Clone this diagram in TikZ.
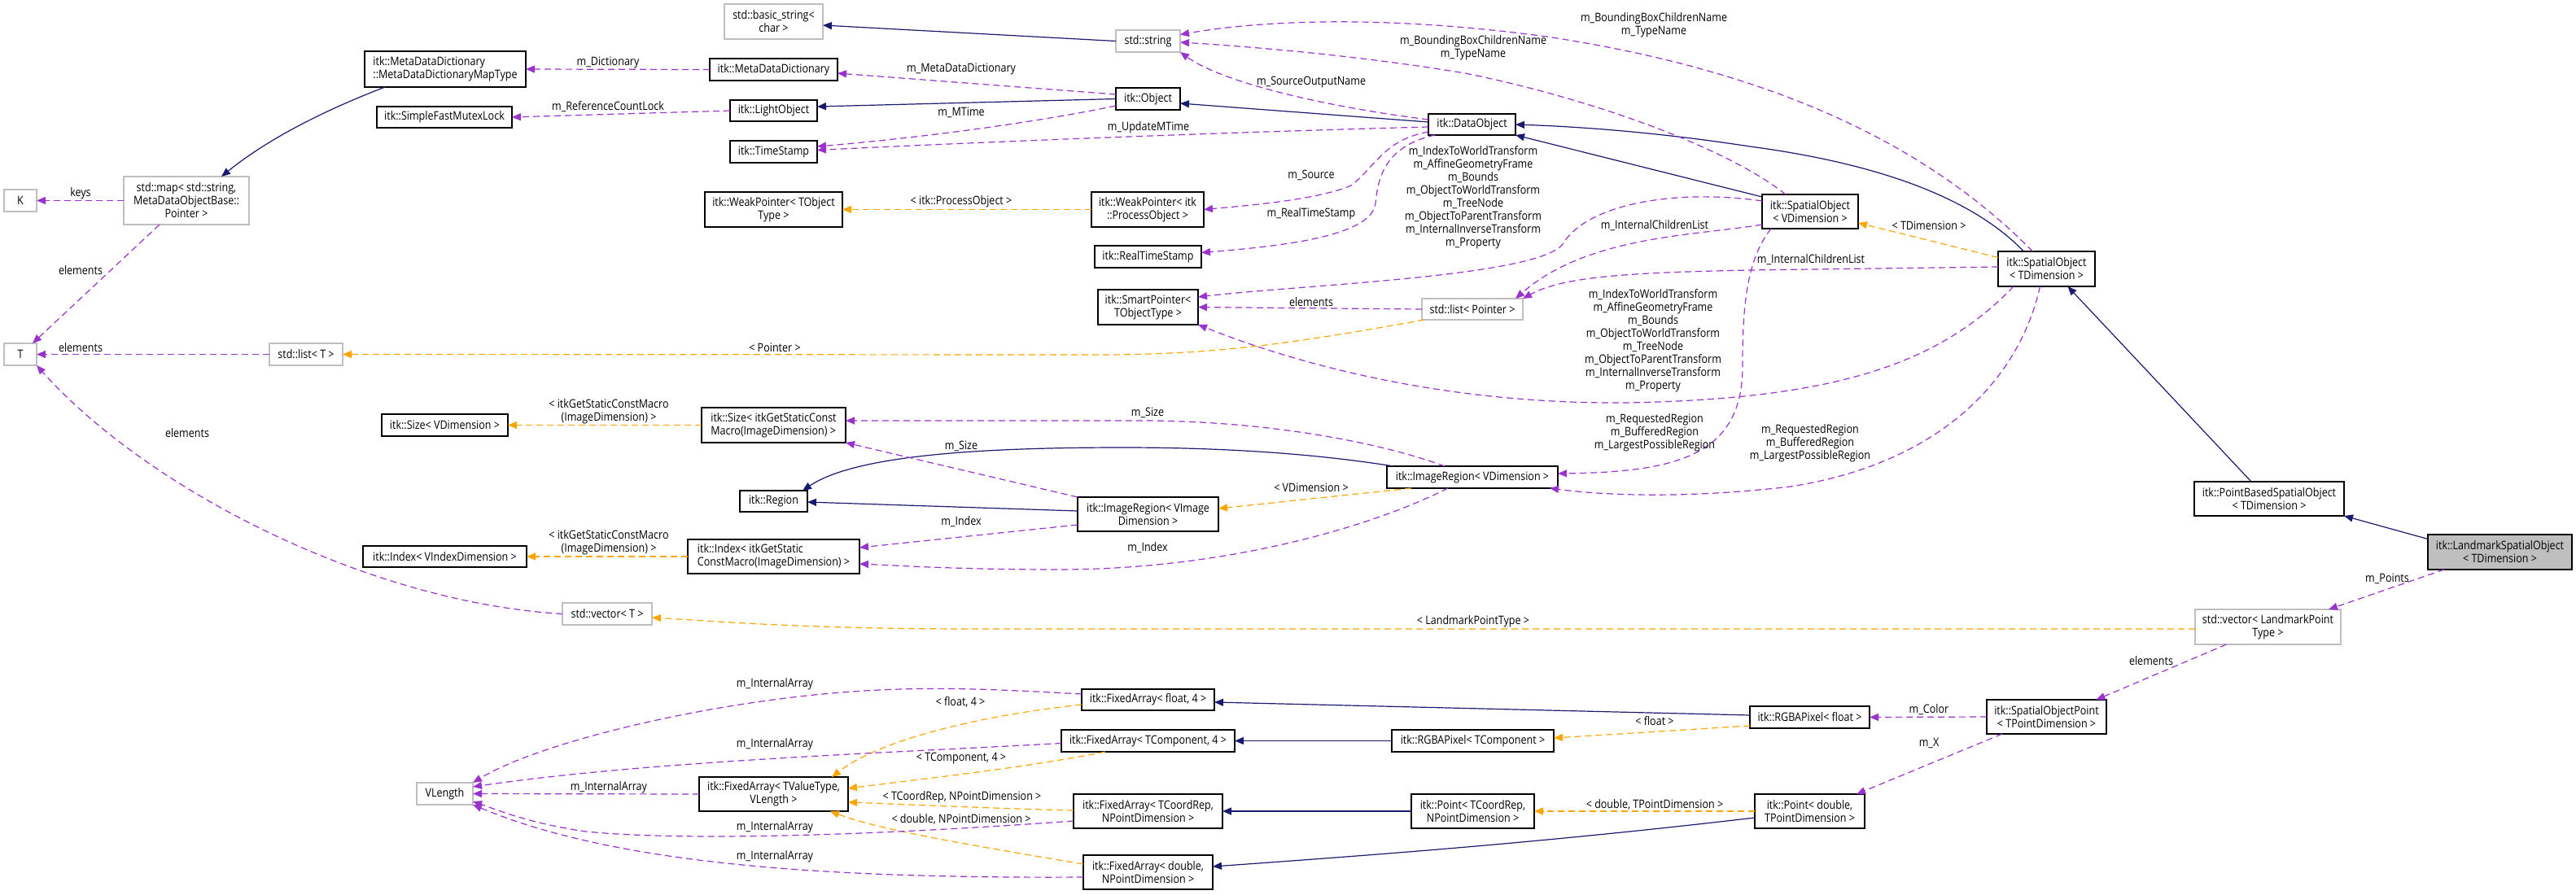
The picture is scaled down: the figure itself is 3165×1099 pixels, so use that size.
\documentclass[tikz,border=0pt]{standalone}
\usepackage{fontspec}
\setmainfont{Open Sans}[FakeStretch=0.87]
\usetikzlibrary{arrows.meta,calc}
\definecolor{pu}{HTML}{9A32CD}
\definecolor{orng}{HTML}{FFA500}
\definecolor{navy}{HTML}{191970}
\definecolor{gb}{HTML}{BFBFBF}
\newcommand\fs{\fontsize{7.2}{8}\selectfont}
\newcommand\nd[7]{\node[#1, minimum width={(#5-#3)*0.5pt}, minimum height={(#6-#4)*0.5pt}] (#2) at ({(#3+#5)/2},{(#4+#6)/2}) {#7};}
\tikzset{
 every node/.style={font=\fs},
 box/.style={draw=black, fill=white, line width=0.6pt, inner sep=0pt, outer sep=0pt, align=center},
 boxl/.style={box, align=left},
 gbox/.style={box, draw=gb},
 lmbox/.style={box, fill=gb},
 lbl/.style={inner sep=0pt, align=center},
 use/.style={draw=pu, line width=0.6pt, dash pattern=on 4pt off 2.5pt, -{Triangle[length=5.5pt,width=4.5pt]}},
 tmpl/.style={use, draw=orng},
 inh/.style={draw=navy, line width=0.6pt, -{Triangle[length=5.5pt,width=4.5pt]}},
}
\begin{document}
\begin{tikzpicture}[x=0.5pt,y=-0.5pt]
\useasboundingbox (0,0) rectangle (3165,1099);
% nodes
\nd{gbox}{K}{5}{233}{45}{260}{K}
\nd{gbox}{map}{152}{217}{306}{276}{std::map< std::string,\\ MetaDataObjectBase::\\Pointer >}
\nd{boxl}{mdmt}{448}{63}{646}{107}{itk::MetaDataDictionary\\::MetaDataDictionaryMapType}
\nd{box}{mutex}{463}{131}{629}{157}{itk::SimpleFastMutexLock}
\nd{gbox}{bs}{890}{5}{1011}{48}{std::basic\_string<\\char >}
\nd{box}{mdd}{872}{72}{1029}{99}{itk::MetaDataDictionary}
\nd{box}{lo}{897}{123}{1004}{149}{itk::LightObject}
\nd{box}{ts}{897}{173}{1004}{200}{itk::TimeStamp}
\nd{box}{wpt}{866}{236}{1035}{279}{itk::WeakPointer< TObject\\Type >}
\nd{gbox}{ss}{1371}{37}{1450}{64}{std::string}
\nd{box}{obj}{1371}{108}{1450}{135}{itk::Object}
\nd{box}{wppo}{1341}{236}{1479}{279}{itk::WeakPointer< itk\\::ProcessObject >}
\nd{box}{rts}{1345}{302}{1476}{329}{itk::RealTimeStamp}
\nd{box}{dobj}{1755}{140}{1862}{166}{itk::DataObject}
\nd{box}{sov}{2165}{239}{2283}{281}{itk::SpatialObject\\< VDimension >}
\nd{box}{sot}{2455}{309}{2574}{352}{itk::SpatialObject\\< TDimension >}
\nd{box}{sp}{1349}{356}{1472}{399}{itk::SmartPointer<\\TObjectType >}
\nd{gbox}{lp}{1747}{367}{1871}{393}{std::list< Pointer >}
\nd{gbox}{T}{5}{422}{45}{449}{T}
\nd{gbox}{lt}{331}{422}{421}{449}{std::list< T >}
\nd{box}{sv}{469}{509}{624}{536}{itk::Size< VDimension >}
\nd{boxl}{sg}{862}{501}{1039}{544}{itk::Size< itkGetStaticConst\\Macro(ImageDimension) >}
\nd{box}{reg}{909}{603}{992}{629}{itk::Region}
\nd{box}{irv}{1704}{573}{1914}{600}{itk::ImageRegion< VDimension >}
\nd{box}{iri}{1324}{611}{1497}{653}{itk::ImageRegion< VImage\\Dimension >}
\nd{box}{iv}{446}{671}{647}{697}{itk::Index< VIndexDimension >}
\nd{boxl}{ig}{845}{663}{1056}{705}{itk::Index< itkGetStatic\\ConstMacro(ImageDimension) >}
\nd{box}{pb}{2696}{592}{2880}{634}{itk::PointBasedSpatialObject\\< TDimension >}
\nd{lmbox}{lm}{2983}{657}{3160}{700}{itk::LandmarkSpatialObject\\< TDimension >}
\nd{gbox}{vt}{691}{741}{801}{768}{std::vector< T >}
\nd{gbox}{vlmp}{2697}{749}{2876}{792}{std::vector< LandmarkPoint\\Type >}
\nd{gbox}{vl}{512}{962}{581}{989}{VLength}
\nd{box}{fatv}{859}{955}{1042}{997}{itk::FixedArray< TValueType,\\VLength >}
\nd{box}{faf}{1329}{847}{1492}{873}{itk::FixedArray< float, 4 >}
\nd{box}{fatc}{1304}{897}{1517}{924}{itk::FixedArray< TComponent, 4 >}
\nd{box}{fac}{1319}{976}{1502}{1018}{itk::FixedArray< TCoordRep,\\NPointDimension >}
\nd{box}{fad}{1331}{1051}{1490}{1093}{itk::FixedArray< double,\\NPointDimension >}
\nd{box}{rt}{1710}{897}{1909}{924}{itk::RGBAPixel< TComponent >}
\nd{box}{ptc}{1734}{976}{1885}{1018}{itk::Point< TCoordRep,\\NPointDimension >}
\nd{box}{rf}{2150}{868}{2297}{895}{itk::RGBAPixel< float >}
\nd{box}{pd}{2156}{976}{2291}{1018}{itk::Point< double,\\TPointDimension >}
\nd{box}{sop}{2441}{860}{2588}{902}{itk::SpatialObjectPoint\\< TPointDimension >}
% inheritance
\draw[inh] (ss.west) -- ($(bs.east)+(0,4.5)$);
\draw[inh] (obj.west) -- ($(lo.east)+(0,-5)$);
\draw[inh] ($(dobj.west)+(0,-3)$) -- ($(obj.east)+(0,5.5)$);
\draw[inh] ($(mdmt.south west)+(25,0)$) .. controls (400,135) and (330,170) .. ($(map.north)+(43,0)$);
\draw[inh] ($(sot.north)+(-28,0)$) .. controls (2420,240) and (2300,200) .. (2150,180) .. controls (2020,160) and (1920,155) .. (dobj.east);
\draw[inh] ($(sov.north west)+(0,3)$) -- (dobj.south east);
\draw[inh] ($(pb.north)+(-22,0)$) -- ($(sot.south)+(26,0)$);
\draw[inh] ($(lm.west)+(0,-16)$) -- (pb.south east);
\draw[inh] ($(irv.north west)+(8,0)$) .. controls (1600,555) and (1480,550) .. (1380,550) .. controls (1200,550) and (1050,560) .. ($(reg.north east)+(-6,0)$);
\draw[inh] ($(iri.west)+(0,-4)$) -- ($(reg.east)+(0,1)$);
\draw[inh] ($(rf.west)+(0,-2.5)$) -- ($(faf.east)+(0,3)$);
\draw[inh] (rt.west) -- (fatc.east);
\draw[inh] (ptc.west) -- (fac.east);
\draw[inh] ($(pd.west)+(0,8)$) .. controls (1900,1035) and (1700,1050) .. ($(fad.east)+(0,-7)$);
% template instances
\draw[tmpl] (wppo.west) -- (wpt.east) node[lbl] at (1181,248) {< itk::ProcessObject >};
\draw[tmpl] ($(lp.south west)+(3,0)$) .. controls (1600,420) and (1500,436) .. (1350,436) -- (lt.east) node[lbl] at (952,427) {< Pointer >};
\draw[tmpl] (sg.west) -- (sv.east) node[lbl] at (748,506) {< itkGetStaticConstMacro\\(ImageDimension) >};
\draw[tmpl] (ig.west) -- (iv.east) node[lbl] at (748,667) {< itkGetStaticConstMacro\\(ImageDimension) >};
\draw[tmpl] ($(sot.west)+(0,-14)$) -- ($(sov.east)+(0,14)$) node[lbl] at (2370,277) {< TDimension >};
\draw[tmpl] ($(irv.south west)+(30,0)$) -- ($(iri.east)+(0,-7)$) node[lbl] at (1611,599) {< VDimension >};
\draw[tmpl] ($(vlmp.west)+(0,2.5)$) -- (1200,773) .. controls (1000,773) and (900,765) .. ($(vt.east)+(0,4.5)$) node[lbl] at (1810,764) {< LandmarkPointType >};
\draw[tmpl] ($(rf.west)+(0,10.5)$) -- ($(rt.east)+(0,-3.5)$) node[lbl] at (2033,886) {< float >};
\draw[tmpl] (pd.west) -- (ptc.east) node[lbl] at (2033,989) {< double, TPointDimension >};
\draw[tmpl] ($(faf.west)+(0,6)$) .. controls (1200,880) and (1080,910) .. ($(fatv.north east)+(-20,0)$) node[lbl] at (1180,863) {< float, 4 >};
\draw[tmpl] ($(fatc.south west)+(54,0)$) .. controls (1250,945) and (1150,955) .. ($(fatv.east)+(0,-7)$) node[lbl] at (1181,932) {< TComponent, 4 >};
\draw[tmpl] ($(fac.west)+(0,-1)$) .. controls (1200,993) and (1100,988) .. ($(fatv.east)+(0,10)$) node[lbl] at (1182,980) {< TCoordRep, NPointDimension >};
\draw[tmpl] ($(fad.west)+(0,-10)$) .. controls (1200,1040) and (1080,1020) .. ($(fatv.south east)+(-22,0)$) node[lbl] at (1181,1007) {< double, NPointDimension >};
% usage
\draw[use] (map.west) -- (K.east) node[lbl] at (99,238) {keys};
\draw[use] ($(map.south)+(-33,0)$) -- ($(T.north east)+(-5,0)$) node[lbl] at (99,332) {elements};
\draw[use] (lt.west) -- (T.east) node[lbl] at (99,427) {elements};
\draw[use] (vt.west) .. controls (450,740) and (180,600) .. (T.south east) node[lbl] at (230,532) {elements};
\draw[use] (mdd.west) -- (mdmt.east) node[lbl] at (747,77) {m\_Dictionary};
\draw[use] (lo.west) -- (mutex.east) node[lbl] at (747,131) {m\_ReferenceCountLock};
\draw[use] ($(obj.west)+(0,-5.5)$) -- ($(mdd.east)+(0,4.5)$) node[lbl] at (1181,85) {m\_MetaDataDictionary};
\draw[use] ($(obj.south west)+(0,-5)$) .. controls (1250,155) and (1100,172) .. ($(ts.east)+(0,-6.5)$) node[lbl] at (1181,138) {m\_MTime};
\draw[use] ($(dobj.west)+(0,3)$) .. controls (1600,160) and (1300,170) .. ($(ts.east)+(0,-2)$) node[lbl] at (1411,157) {m\_UpdateMTime};
\draw[use] ($(dobj.west)+(0,-6)$) .. controls (1620,130) and (1500,100) .. (ss.south east) node[lbl] at (1611,101) {m\_SourceOutputName};
\draw[use] ($(dobj.west)+(0,9)$) .. controls (1700,172) and (1690,205) .. (1660,228) .. controls (1620,245) and (1540,252) .. (wppo.east) node[lbl] at (1611,215) {m\_Source};
\draw[use] ($(dobj.south west)+(8,0)$) .. controls (1700,180) and (1693,220) .. (1690,250) .. controls (1685,290) and (1580,302) .. ($(rts.east)+(0,-5)$) node[lbl] at (1611,263) {m\_RealTimeStamp};
\draw[use] ($(sov.north)+(-30,0)$) .. controls (2120,180) and (1950,120) .. (1800,90) .. controls (1650,65) and (1500,55) .. ($(ss.east)+(0,1.5)$) node[lbl] at (1810,59) {m\_BoundingBoxChildrenName\\m\_TypeName};
\draw[use] ($(sot.north)+(-17,0)$) .. controls (2380,190) and (2200,90) .. (1900,45) .. controls (1700,18) and (1550,25) .. ($(ss.east)+(0,-8)$) node[lbl] at (2032,31) {m\_BoundingBoxChildrenName\\m\_TypeName};
\draw[use] (lp.west) -- (sp.east) node[lbl] at (1611,371) {elements};
\draw[use] ($(sov.west)+(0,-13)$) .. controls (2060,232) and (1950,250) .. (1920,300) .. controls (1890,340) and (1600,350) .. ($(sp.east)+(0,-12.5)$) node[lbl] at (1810,243) {m\_IndexToWorldTransform\\m\_AffineGeometryFrame\\m\_Bounds\\m\_ObjectToWorldTransform\\m\_TreeNode\\m\_ObjectToParentTransform\\m\_InternalInverseTransform\\m\_Property};
\draw[use] ($(sov.west)+(0,16)$) .. controls (2080,290) and (1950,290) .. ($(lp.north east)+(-9,0)$) node[lbl] at (2033,277) {m\_InternalChildrenList};
\draw[use] ($(sov.south west)+(11,0)$) .. controls (2145,320) and (2141,380) .. (2141,450) .. controls (2141,560) and (2060,580) .. ($(irv.east)+(0,-4.5)$) node[lbl] at (2033,532) {m\_RequestedRegion\\m\_BufferedRegion\\m\_LargestPossibleRegion};
\draw[use] ($(sot.west)+(0,-2.5)$) -- (2150,332) .. controls (2000,335) and (1920,340) .. (lp.north east) node[lbl] at (2225,319) {m\_InternalChildrenList};
\draw[use] ($(sot.south west)+(19,0)$) .. controls (2380,450) and (2250,490) .. (2000,495) .. controls (1780,497) and (1600,450) .. (sp.south east) node[lbl] at (2031,419) {m\_IndexToWorldTransform\\m\_AffineGeometryFrame\\m\_Bounds\\m\_ObjectToWorldTransform\\m\_TreeNode\\m\_ObjectToParentTransform\\m\_InternalInverseTransform\\m\_Property};
\draw[use] ($(sot.south)+(-8,0)$) .. controls (2480,470) and (2380,570) .. (2200,598) .. controls (2080,612) and (1980,610) .. ($(irv.south east)+(-10,0)$) node[lbl] at (2224,545) {m\_RequestedRegion\\m\_BufferedRegion\\m\_LargestPossibleRegion};
\draw[use] ($(lm.south west)+(20,0)$) -- ($(vlmp.north east)+(-15,0)$) node[lbl] at (2933,711) {m\_Points};
\draw[use] ($(vlmp.south)+(-51,0)$) -- ($(sop.north)+(61,0)$) node[lbl] at (2643,812) {elements};
\draw[use] (sop.west) -- (rf.east) node[lbl] at (2370,872) {m\_Color};
\draw[use] ($(sop.south west)+(19,0)$) -- ($(pd.north east)+(-10,0)$) node[lbl] at (2370,913) {m\_X};
\draw[use] ($(irv.north)+(-34,0)$) .. controls (1700,545) and (1560,517) .. (1400,517) -- ($(sg.east)+(0,-5.5)$) node[lbl] at (1410,507) {m\_Size};
\draw[use] ($(irv.south)+(-30,0)$) .. controls (1680,650) and (1500,700) .. (1300,700) .. controls (1180,700) and (1100,695) .. ($(ig.east)+(0,9)$) node[lbl] at (1410,673) {m\_Index};
\draw[use] (iri.north west) -- (sg.south east) node[lbl] at (1181,548) {m\_Size};
\draw[use] ($(iri.west)+(0,13)$) -- ($(ig.east)+(0,-11)$) node[lbl] at (1181,641) {m\_Index};
\draw[use] ($(faf.west)+(0,-7)$) .. controls (1200,846) and (1100,840) .. (950,860) .. controls (800,880) and (650,920) .. (vl.north east) node[lbl] at (952,841) {m\_InternalArray};
\draw[use] ($(fatc.west)+(0,3)$) .. controls (1100,925) and (800,935) .. ($(vl.east)+(0,-8.5)$) node[lbl] at (952,915) {m\_InternalArray};
\draw[use] (fatv.west) -- (vl.east) node[lbl] at (748,968) {m\_InternalArray};
\draw[use] ($(fac.west)+(0,12)$) .. controls (1100,1025) and (850,1035) .. (720,1022) .. controls (650,1012) and (610,995) .. ($(vl.east)+(0,9.5)$) node[lbl] at (952,1017) {m\_InternalArray};
\draw[use] ($(fad.west)+(0,6)$) .. controls (1000,1080) and (750,1060) .. (vl.south east) node[lbl] at (952,1053) {m\_InternalArray};
\end{tikzpicture}
\end{document}
